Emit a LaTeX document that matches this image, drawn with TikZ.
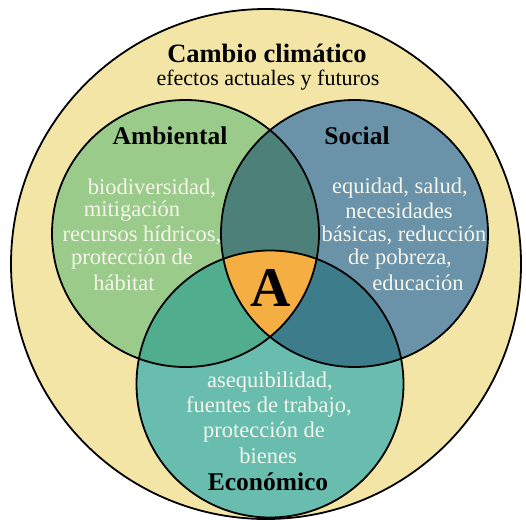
\documentclass[tikz,border=0pt]{standalone}
\usepackage{fontspec}
\setmainfont{Liberation Serif}
\definecolor{cream}{HTML}{F2E5A6}
\definecolor{amb}{HTML}{9BCB8B}
\definecolor{soc}{HTML}{6A93A9}
\definecolor{eco}{HTML}{69BDAF}
\definecolor{ambsoc}{HTML}{4D8078}
\definecolor{ambeco}{HTML}{50AD8E}
\definecolor{soceco}{HTML}{3D7C8A}
\definecolor{core}{HTML}{F4AE42}
\definecolor{txt}{HTML}{F5F5EA}
\begin{document}
\begin{tikzpicture}[x=1pt,y=-1pt,
  ring/.style={draw=black,line width=1.8pt},
  head/.style={font=\fontsize{25.5}{28}\selectfont\bfseries,text=black,inner sep=0pt},
  body/.style={font=\fontsize{22.5}{26}\selectfont,text=txt,inner sep=0pt,align=center}]
\useasboundingbox (0,0) rectangle (526,519);
\fill[white] (0,0) rectangle (526,519);
\coordinate (cc) at (266,264);
\coordinate (ca) at (185.5,233.5);
\coordinate (cs) at (354.5,233.5);
\coordinate (ce) at (270,384);
\def\R{133.5}
% outer circle
\fill[cream] (cc) circle[radius=255];
% circle fills
\fill[amb] (ca) circle[radius=\R];
\fill[soc] (cs) circle[radius=\R];
\fill[eco] (ce) circle[radius=\R];
\begin{scope}
  \clip (ca) circle[radius=\R];
  \fill[ambsoc] (cs) circle[radius=\R];
  \fill[ambeco] (ce) circle[radius=\R];
\end{scope}
\begin{scope}
  \clip (cs) circle[radius=\R];
  \fill[soceco] (ce) circle[radius=\R];
  \clip (ca) circle[radius=\R];
  \fill[core] (ce) circle[radius=\R];
\end{scope}
% borders
\draw[ring] (cc) circle[radius=255];
\draw[ring] (ca) circle[radius=\R];
\draw[ring] (cs) circle[radius=\R];
\draw[ring] (ce) circle[radius=\R];
% texts
\node[head,font=\fontsize{26.5}{30}\selectfont\bfseries] (title) at (267,53) {Cambio climático};
\node[inner sep=0pt,font=\fontsize{22}{26}\selectfont] (sub) at (268,80) {efectos actuales y futuros};
\node[head] (ambt) at (170,136) {Ambiental};
\node[head] (soct) at (357,136) {Social};
\node[head] (ecot) at (268,482) {Económico};
\node[inner sep=0pt,font=\fontsize{56}{60}\selectfont\bfseries] (A) at (271,288) {A};
\node[body] (a1) at (152,188) {biodiversidad,};
\node[body] (a2) at (132,211) {mitigación};
\node[body] (a3) at (142,235) {recursos hídricos,};
\node[body] (a4) at (132,259) {protección de};
\node[body] (a5) at (124,283) {hábitat};
\node[body] (s1) at (400,188) {equidad, salud,};
\node[body] (s2) at (399,211) {necesidades};
\node[body] (s3) at (404,235) {básicas, reducción};
\node[body] (s4) at (400,259) {de pobreza,};
\node[body] (s5) at (418,283) {educación};
\node[body] (e1) at (270,382) {asequibilidad,};
\node[body] (e2) at (269,407) {fuentes de trabajo,};
\node[body] (e3) at (264,432) {protección de};
\node[body] (e4) at (268,456) {bienes};
\end{tikzpicture}
\end{document}
